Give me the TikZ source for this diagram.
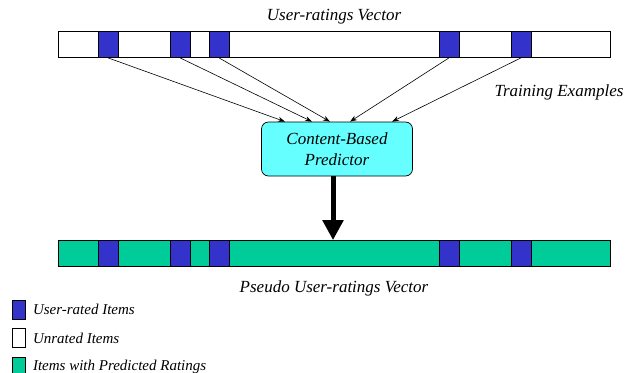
\documentclass[tikz,border=0pt]{standalone}
\usepackage{fontspec}
\setmainfont{Liberation Serif}
\usetikzlibrary{positioning,arrows.meta}
\definecolor{ratedblue}{HTML}{3333CC}
\definecolor{predgreen}{HTML}{00CC99}
\definecolor{predcyan}{HTML}{66FFFF}

\begin{document}
\begin{tikzpicture}[
x=1pt,y=-1pt,
bar/.style={draw, line width=0.7pt, minimum width=552pt, minimum height=26pt, inner sep=0pt},
cell/.style={draw, line width=0.7pt, fill=ratedblue, minimum width=20pt, minimum height=26pt, inner sep=0pt},
keybox/.style={draw, line width=0.7pt, minimum width=13pt, minimum height=19pt, inner sep=0pt},
lbl/.style={font=\itshape\fontsize{17}{19}\selectfont, inner sep=0pt},
keylbl/.style={font=\itshape\fontsize{15}{17}\selectfont, inner sep=0pt, anchor=west},
>={Stealth[length=7pt,width=5pt]}
]
\useasboundingbox (0,0) rectangle (626,372);

% vectors
\node[bar, fill=white] (topbar) at (334,44.5) {};
\node[bar, fill=predgreen] (botbar) at (334,253.5) {};
\foreach \i/\cx in {1/108,2/180,3/219,4/449,5/521} {
  \node[cell] (u\i) at (\cx,44.5) {};
  \node[cell] (p\i) at (\cx,253.5) {};
}

\node[lbl] (toplabel) at (334,17) {User-ratings Vector};
\node[lbl] (botlabel) at (334,288) {Pseudo User-ratings Vector};
\node[lbl] (train) at (559,92) {Training Examples};

% predictor
\node[draw, line width=0.7pt, fill=predcyan, rounded corners=7pt, minimum width=151pt,
  minimum height=54pt, align=center, lbl] (pred) at (337,149)
  {Content-Based\\[2pt]Predictor};

\foreach \i/\dx in {1/-52,2/-25,3/-7,4/13,5/55}
  \draw[->, line width=0.6pt] (u\i.south) -- ([xshift=\dx pt]pred.north);
\draw[-{Triangle[width=20pt,length=20pt]}, line width=5pt]
  ([xshift=-4pt]pred.south) -- ([xshift=-1pt]botbar.north);

% legend
\node[keybox, fill=ratedblue] (k1) at (19,309.5) {};
\node[keybox, fill=white] (k2) at (19,338) {};
\node[keybox, fill=predgreen] (k3) at (19,366.5) {};
\node[keylbl, right=7pt of k1] {User-rated Items};
\node[keylbl, right=7pt of k2] {Unrated Items};
\node[keylbl, right=7pt of k3] {Items with Predicted Ratings};
\end{tikzpicture}
\end{document}
